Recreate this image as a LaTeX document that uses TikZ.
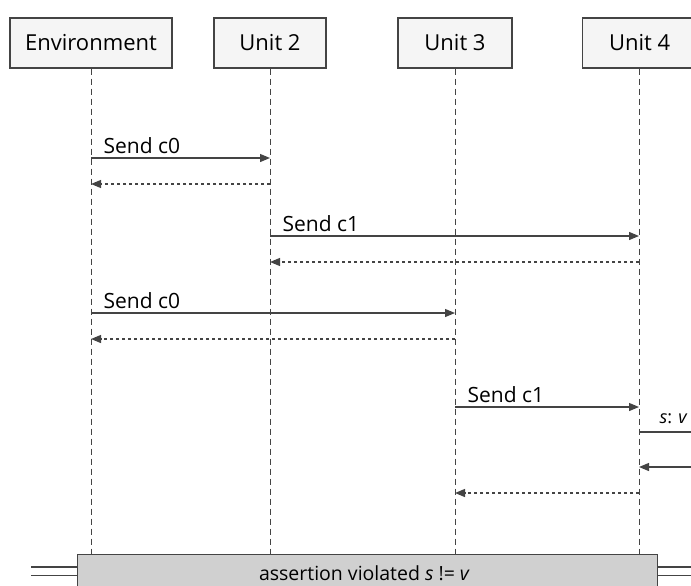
\documentclass[tikz,border=0pt]{standalone}
\usepackage{fontspec}
\setmainfont{Open Sans}
\usetikzlibrary{arrows.meta}
\definecolor{linegray}{HTML}{444444}
\definecolor{headfill}{HTML}{F5F5F5}
\definecolor{notefill}{HTML}{D0D0D0}
\tikzset{
  head/.style={draw=linegray, line width=1.3pt, fill=headfill, minimum height=50pt,
    font=\fontsize{22}{26}\selectfont, inner sep=0pt},
  life/.style={draw=linegray, line width=1pt, dash pattern=on 6pt off 4pt},
  msg/.style={draw=linegray, line width=1.2pt, -{Triangle[length=10pt,width=8pt]}},
  ret/.style={draw=linegray, line width=1.2pt, dash pattern=on 3pt off 3pt, -{Triangle[length=10pt,width=8pt]}},
  plain/.style={draw=linegray, line width=1.2pt},
  lbl/.style={font=\fontsize{21}{24}\selectfont, anchor=south west, inner sep=0pt},
}
\begin{document}
\begin{tikzpicture}[x=1pt,y=-1pt]
\useasboundingbox (0,0) rectangle (691,586);
% participant heads
\node[head, minimum width=162pt] (env) at (91,43) {Environment};
\node[head, minimum width=112pt] (u2) at (270,43) {Unit 2};
\node[head, minimum width=114pt] (u3) at (455,43) {Unit 3};
\node[head, minimum width=114pt, anchor=west] (u4) at (582,43) {Unit 4};
% lifelines
\coordinate (envb) at (91,554);
\coordinate (u2b) at (270,554);
\coordinate (u3b) at (455,554);
\coordinate (u4b) at (639,554);
\draw[life] (env.south) -- (envb);
\draw[life] (u2.south) -- (u2b);
\draw[life] (u3.south) -- (u3b);
\draw[life] (u4.south -| u4b) -- (u4b);
% anchor points on the lifelines
\foreach \y in {158,184,313,339} {\coordinate (e\y) at (91,\y);}
\foreach \y in {158,184,236,262} {\coordinate (b\y) at (270,\y);}
\foreach \y in {313,339,407,493} {\coordinate (c\y) at (455,\y);}
\foreach \y in {236,262,407,432,467,493} {\coordinate (d\y) at (639,\y);}
\coordinate (r432) at (691,432);
\coordinate (r467) at (691,467);
% messages
\draw[msg] (e158) -- (b158) node[lbl, pos=0, xshift=12pt, yshift=4pt] (m1) {Send c0};
\draw[ret] (b184) -- (e184);
\draw[msg] (b236) -- (d236) node[lbl, pos=0, xshift=12pt, yshift=4pt] (m2) {Send c1};
\draw[ret] (d262) -- (b262);
\draw[msg] (e313) -- (c313) node[lbl, pos=0, xshift=12pt, yshift=4pt] (m3) {Send c0};
\draw[ret] (c339) -- (e339);
\draw[msg] (c407) -- (d407) node[lbl, pos=0, xshift=12pt, yshift=4pt] (m4) {Send c1};
\draw[plain] (d432) -- (r432) node[lbl, font=\fontsize{18}{20}\selectfont, pos=0, xshift=20pt, yshift=8pt] (sv) {\itshape s\upshape: \itshape v};
\draw[msg] (r467) -- (d467);
\draw[ret] (d493) -- (c493);
% assertion note
\draw[linegray, line width=1.3pt] (31,567) -- (77,567) (31,575.5) -- (77,575.5);
\draw[linegray, line width=1.3pt] (657,567) -- (691,567) (657,575.5) -- (691,575.5);
\node[draw=linegray, line width=1.3pt, fill=notefill, anchor=north west,
  minimum width=580pt, minimum height=40pt, inner sep=0pt] (note) at (77,554) {};
\node[font=\fontsize{19.5}{22}\selectfont] (notetext) at (364,573) {assertion violated \itshape s\upshape{} != \itshape v};
\end{tikzpicture}
\end{document}
